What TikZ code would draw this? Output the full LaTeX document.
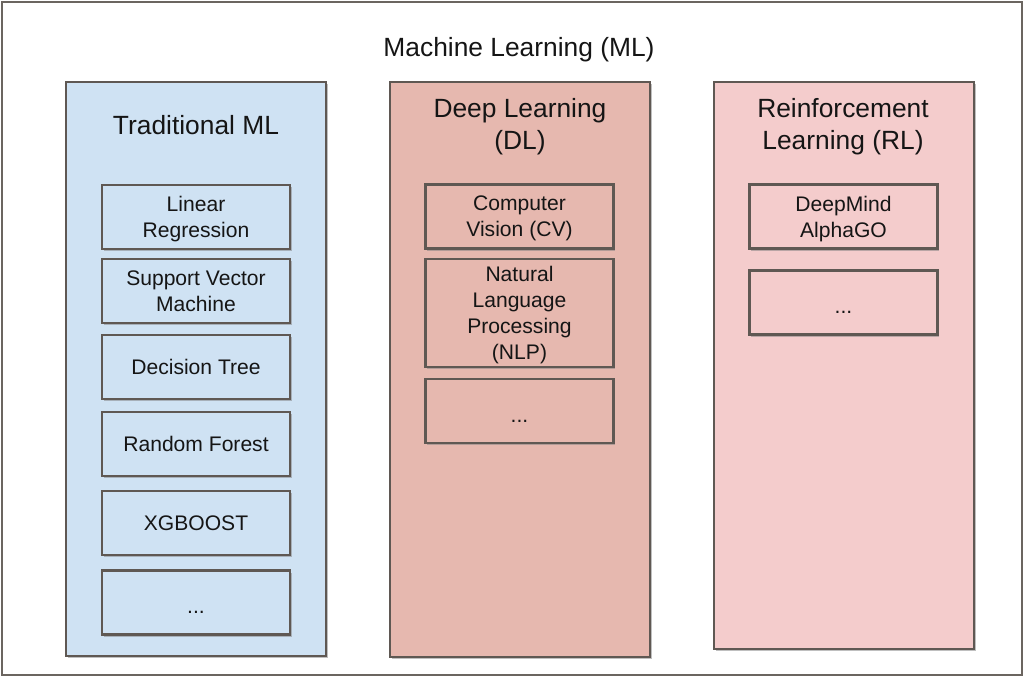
\documentclass[tikz,border=0pt]{standalone}
\usepackage{fontspec}
\setmainfont{Liberation Sans}
\definecolor{mlFrame}{HTML}{6B6560}
\definecolor{mlEdge}{HTML}{5F5853}
\definecolor{mlText}{HTML}{151515}
\definecolor{mlBlue}{HTML}{CFE2F3}
\definecolor{mlRose}{HTML}{E6B8AF}
\definecolor{mlPink}{HTML}{F4CCCC}
\usetikzlibrary{positioning,shadows}

\begin{document}
\begin{tikzpicture}[
  frame/.style={draw=mlFrame, line width=1.2pt, fill=white},
  column/.style={draw=mlEdge, line width=1.3pt, minimum width=5.2cm,
    inner sep=0pt, drop shadow={shadow xshift=1pt, shadow yshift=-1.2pt,
    fill=gray, opacity=0.5}},
  ttl/.style={font=\fontsize{15}{18.1}\selectfont, text=mlText, align=center},
  item/.style={draw=mlEdge, line width=1.3pt, minimum width=3.76cm,
    minimum height=1.28cm, inner sep=0pt, align=center, text=mlText,
    text depth=0pt, font=\fontsize{12}{14.7}\selectfont,
    drop shadow={shadow xshift=1pt, shadow yshift=-1.3pt,
    fill=gray, opacity=0.5}},
  more/.style={text height=13pt}
]
  \useasboundingbox (0,0) rectangle (20.52,13.56);
  % Outer frame
  \node[frame, minimum width=20.4cm, minimum height=13.46cm, inner sep=0pt]
    (ml) at (10.24,6.79) {};
  \node[ttl] (mltitle) at (10.38,12.56) {Machine Learning (ML)};
  % Columns
  \node[column, fill=mlBlue, minimum height=11.48cm] (trad) at (3.92,6.18) {};
  \node[column, fill=mlRose, minimum height=11.50cm] (deep) at (10.40,6.17) {};
  \node[column, fill=mlPink, minimum height=11.34cm] (rl)   at (16.88,6.25) {};
  % Column titles
  \node[ttl] (tradtitle) at (3.92,11.06)  {Traditional ML};
  \node[ttl] (deeptitle) at (10.40,11.02) {Deep Learning\\(DL)};
  \node[ttl] (rltitle)   at (16.86,11.02) {Reinforcement\\Learning (RL)};
  % Traditional ML
  \node[item, fill=mlBlue] (linreg)   at (3.92,9.22) {Linear\\Regression};
  \node[item, fill=mlBlue] (svm)      at (3.92,7.74) {Support Vector\\Machine};
  \node[item, fill=mlBlue] (dtree)    at (3.92,6.22) {Decision Tree};
  \node[item, fill=mlBlue] (rforest)  at (3.92,4.68) {Random Forest};
  \node[item, fill=mlBlue] (xgb)      at (3.92,3.10) {XGBOOST};
  \node[item, more, fill=mlBlue] (tradmore) at (3.92,1.51) {...};
  % Deep Learning
  \node[item, fill=mlRose] (cv) at (10.39,9.23) {Computer\\Vision (CV)};
  \node[item, fill=mlRose, minimum height=2.16cm] (nlp) at (10.39,7.30)
    {Natural\\Language\\Processing\\(NLP)};
  \node[item, more, fill=mlRose] (deepmore) at (10.39,5.34) {...};
  % Reinforcement Learning
  \node[item, fill=mlPink] (alphago) at (16.87,9.23) {DeepMind\\AlphaGO};
  \node[item, more, fill=mlPink] (rlmore) at (16.87,7.51) {...};
\end{tikzpicture}
\end{document}
